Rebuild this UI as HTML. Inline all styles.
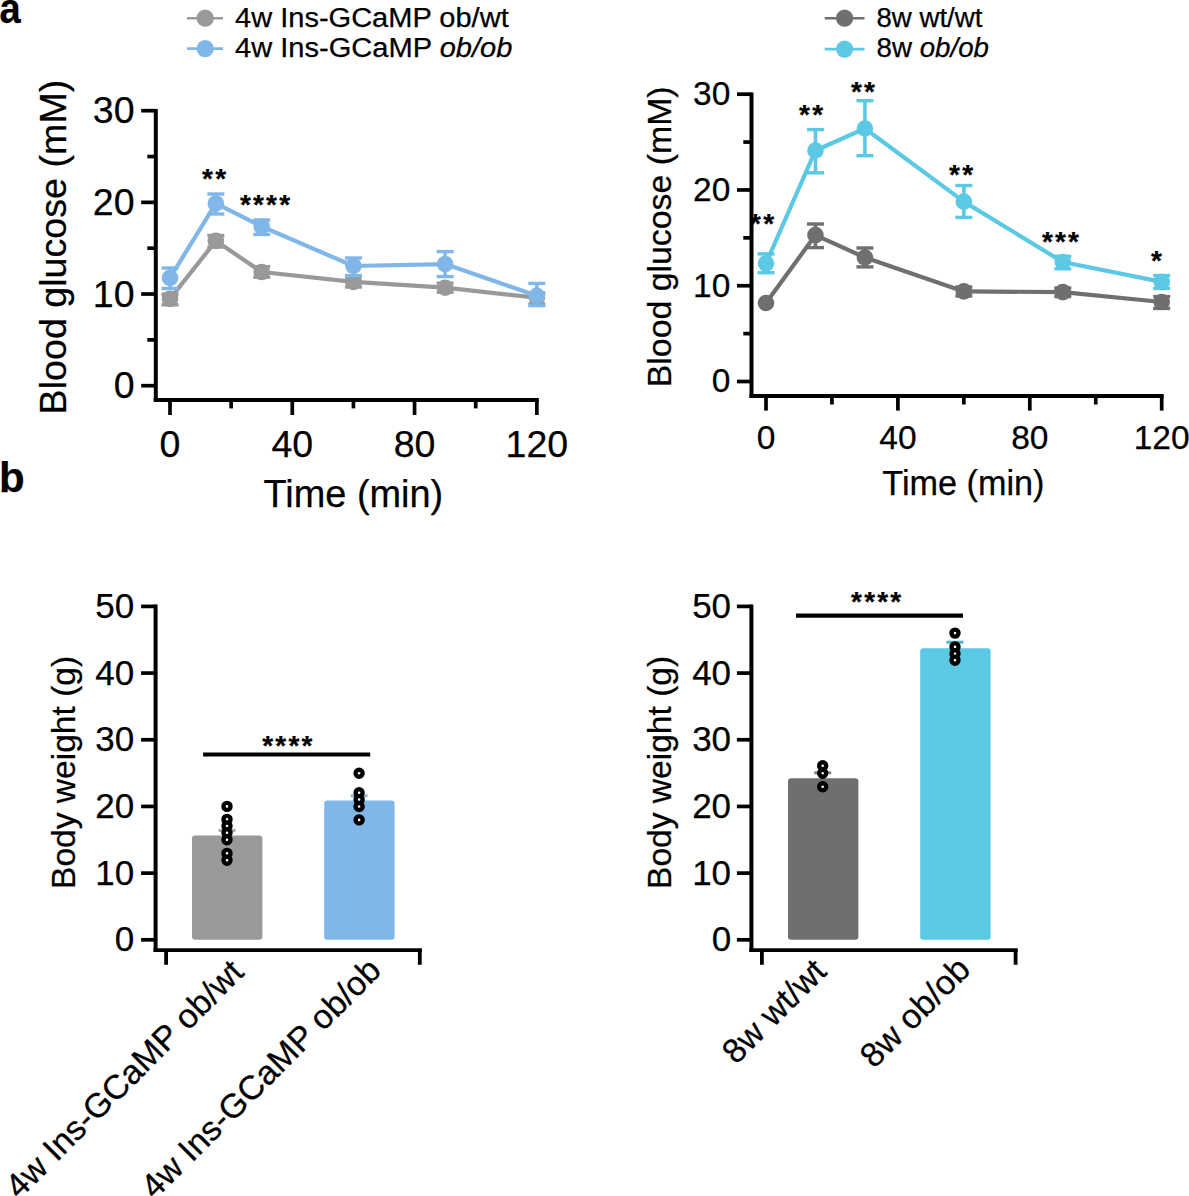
<!DOCTYPE html>
<html><head><meta charset="utf-8"><title>Figure</title>
<style>
html,body{margin:0;padding:0;background:#fff;}
body{width:1189px;height:1196px;overflow:hidden;}
svg{display:block;}
text{font-family:"Liberation Sans", sans-serif;fill:#000;stroke:#000;stroke-width:0.25px;}
</style></head>
<body>
<svg width="1189" height="1196" viewBox="0 0 1189 1196">
<rect width="1189" height="1196" fill="#fff"/>
<text x="-0.60" y="22.90" font-size="42" text-anchor="start" font-weight="bold" textLength="21.20" lengthAdjust="spacingAndGlyphs">a</text>
<text x="-1.00" y="491.50" font-size="42" text-anchor="start" font-weight="bold">b</text>
<line x1="187.00" y1="18.20" x2="223.00" y2="18.20" stroke="#999999" stroke-width="2.6" stroke-linecap="butt"/>
<circle cx="205.20" cy="18.20" r="8.6" fill="#999999" stroke="none" stroke-width="0"/>
<line x1="187.00" y1="48.60" x2="223.00" y2="48.60" stroke="#80b7e8" stroke-width="2.6" stroke-linecap="butt"/>
<circle cx="205.20" cy="48.60" r="8.6" fill="#80b7e8" stroke="none" stroke-width="0"/>
<text x="235.00" y="27.20" font-size="27" text-anchor="start" font-weight="normal" textLength="273.72" lengthAdjust="spacingAndGlyphs">4w Ins-GCaMP ob/wt</text>
<text x="235.00" y="57.10" font-size="27" text-anchor="start" font-weight="normal" textLength="277.41" lengthAdjust="spacingAndGlyphs">4w Ins-GCaMP <tspan font-style="italic">ob/ob</tspan></text>
<line x1="824.70" y1="18.20" x2="864.50" y2="18.20" stroke="#6f6f6f" stroke-width="2.6" stroke-linecap="butt"/>
<circle cx="844.60" cy="18.20" r="8.6" fill="#6f6f6f" stroke="none" stroke-width="0"/>
<line x1="824.70" y1="49.10" x2="864.50" y2="49.10" stroke="#5bc9e3" stroke-width="2.6" stroke-linecap="butt"/>
<circle cx="844.60" cy="49.10" r="8.6" fill="#5bc9e3" stroke="none" stroke-width="0"/>
<text x="876.50" y="27.40" font-size="27" text-anchor="start" font-weight="normal" textLength="105.86" lengthAdjust="spacingAndGlyphs">8w wt/wt</text>
<text x="876.50" y="57.40" font-size="27" text-anchor="start" font-weight="normal" textLength="112.54" lengthAdjust="spacingAndGlyphs">8w <tspan font-style="italic">ob/ob</tspan></text>
<line x1="155.80" y1="108.89" x2="155.80" y2="402.10" stroke="#000" stroke-width="4" stroke-linecap="butt"/>
<line x1="153.80" y1="400.10" x2="538.84" y2="400.10" stroke="#000" stroke-width="4" stroke-linecap="butt"/>
<line x1="141.20" y1="385.70" x2="155.80" y2="385.70" stroke="#000" stroke-width="3.7" stroke-linecap="butt"/>
<line x1="141.20" y1="294.03" x2="155.80" y2="294.03" stroke="#000" stroke-width="3.7" stroke-linecap="butt"/>
<line x1="141.20" y1="202.36" x2="155.80" y2="202.36" stroke="#000" stroke-width="3.7" stroke-linecap="butt"/>
<line x1="141.20" y1="110.69" x2="155.80" y2="110.69" stroke="#000" stroke-width="3.7" stroke-linecap="butt"/>
<line x1="147.30" y1="339.87" x2="155.80" y2="339.87" stroke="#000" stroke-width="3.7" stroke-linecap="butt"/>
<line x1="147.30" y1="248.19" x2="155.80" y2="248.19" stroke="#000" stroke-width="3.7" stroke-linecap="butt"/>
<line x1="147.30" y1="156.53" x2="155.80" y2="156.53" stroke="#000" stroke-width="3.7" stroke-linecap="butt"/>
<line x1="170.00" y1="400.10" x2="170.00" y2="415.00" stroke="#000" stroke-width="3.7" stroke-linecap="butt"/>
<line x1="292.28" y1="400.10" x2="292.28" y2="415.00" stroke="#000" stroke-width="3.7" stroke-linecap="butt"/>
<line x1="414.56" y1="400.10" x2="414.56" y2="415.00" stroke="#000" stroke-width="3.7" stroke-linecap="butt"/>
<line x1="536.84" y1="400.10" x2="536.84" y2="415.00" stroke="#000" stroke-width="3.7" stroke-linecap="butt"/>
<line x1="231.14" y1="400.10" x2="231.14" y2="408.40" stroke="#000" stroke-width="3.7" stroke-linecap="butt"/>
<line x1="353.42" y1="400.10" x2="353.42" y2="408.40" stroke="#000" stroke-width="3.7" stroke-linecap="butt"/>
<line x1="475.70" y1="400.10" x2="475.70" y2="408.40" stroke="#000" stroke-width="3.7" stroke-linecap="butt"/>
<text x="134.50" y="398.43" font-size="37.5" text-anchor="end" font-weight="normal">0</text>
<text x="134.50" y="306.75" font-size="37.5" text-anchor="end" font-weight="normal">10</text>
<text x="134.50" y="215.09" font-size="37.5" text-anchor="end" font-weight="normal">20</text>
<text x="134.50" y="123.41" font-size="37.5" text-anchor="end" font-weight="normal">30</text>
<text x="170.00" y="456.70" font-size="37.5" text-anchor="middle" font-weight="normal">0</text>
<text x="292.28" y="456.70" font-size="37.5" text-anchor="middle" font-weight="normal">40</text>
<text x="414.56" y="456.70" font-size="37.5" text-anchor="middle" font-weight="normal">80</text>
<text x="536.84" y="456.70" font-size="37.5" text-anchor="middle" font-weight="normal">120</text>
<text x="353.40" y="507.30" font-size="37.9" text-anchor="middle" font-weight="normal">Time (min)</text>
<text x="0.00" y="0.00" font-size="37.65" text-anchor="middle" font-weight="normal" transform="translate(66.1,247.05) rotate(-90)">Blood glucose (mM)</text>
<path d="M170.00,298.89 L215.85,240.86 L261.71,272.03 L353.42,281.93 L445.13,287.70 L536.84,297.70" fill="none" stroke="#999999" stroke-width="4.2" stroke-linejoin="round"/>
<line x1="170.00" y1="304.80" x2="170.00" y2="294.20" stroke="#999999" stroke-width="3.6" stroke-linecap="butt"/>
<line x1="161.50" y1="304.80" x2="178.50" y2="304.80" stroke="#999999" stroke-width="3.4" stroke-linecap="butt"/>
<line x1="161.50" y1="294.20" x2="178.50" y2="294.20" stroke="#999999" stroke-width="3.4" stroke-linecap="butt"/>
<line x1="215.85" y1="247.00" x2="215.85" y2="235.50" stroke="#999999" stroke-width="3.6" stroke-linecap="butt"/>
<line x1="207.35" y1="247.00" x2="224.35" y2="247.00" stroke="#999999" stroke-width="3.4" stroke-linecap="butt"/>
<line x1="207.35" y1="235.50" x2="224.35" y2="235.50" stroke="#999999" stroke-width="3.4" stroke-linecap="butt"/>
<line x1="261.71" y1="277.20" x2="261.71" y2="266.70" stroke="#999999" stroke-width="3.6" stroke-linecap="butt"/>
<line x1="253.21" y1="277.20" x2="270.21" y2="277.20" stroke="#999999" stroke-width="3.4" stroke-linecap="butt"/>
<line x1="253.21" y1="266.70" x2="270.21" y2="266.70" stroke="#999999" stroke-width="3.4" stroke-linecap="butt"/>
<line x1="353.42" y1="287.00" x2="353.42" y2="277.00" stroke="#999999" stroke-width="3.6" stroke-linecap="butt"/>
<line x1="344.92" y1="287.00" x2="361.92" y2="287.00" stroke="#999999" stroke-width="3.4" stroke-linecap="butt"/>
<line x1="344.92" y1="277.00" x2="361.92" y2="277.00" stroke="#999999" stroke-width="3.4" stroke-linecap="butt"/>
<line x1="445.13" y1="292.20" x2="445.13" y2="283.20" stroke="#999999" stroke-width="3.6" stroke-linecap="butt"/>
<line x1="436.63" y1="292.20" x2="453.63" y2="292.20" stroke="#999999" stroke-width="3.4" stroke-linecap="butt"/>
<line x1="436.63" y1="283.20" x2="453.63" y2="283.20" stroke="#999999" stroke-width="3.4" stroke-linecap="butt"/>
<line x1="536.84" y1="304.00" x2="536.84" y2="293.00" stroke="#999999" stroke-width="3.6" stroke-linecap="butt"/>
<line x1="528.34" y1="304.00" x2="545.34" y2="304.00" stroke="#999999" stroke-width="3.4" stroke-linecap="butt"/>
<line x1="528.34" y1="293.00" x2="545.34" y2="293.00" stroke="#999999" stroke-width="3.4" stroke-linecap="butt"/>
<circle cx="170.00" cy="298.89" r="8.3" fill="#999999" stroke="none" stroke-width="0"/>
<circle cx="215.85" cy="240.86" r="8.3" fill="#999999" stroke="none" stroke-width="0"/>
<circle cx="261.71" cy="272.03" r="8.3" fill="#999999" stroke="none" stroke-width="0"/>
<circle cx="353.42" cy="281.93" r="8.3" fill="#999999" stroke="none" stroke-width="0"/>
<circle cx="445.13" cy="287.70" r="8.3" fill="#999999" stroke="none" stroke-width="0"/>
<circle cx="536.84" cy="297.70" r="8.3" fill="#999999" stroke="none" stroke-width="0"/>
<path d="M170.00,277.80 L215.85,203.46 L261.71,226.47 L353.42,265.98 L445.13,264.05 L536.84,295.77" fill="none" stroke="#80b7e8" stroke-width="4.2" stroke-linejoin="round"/>
<line x1="170.00" y1="288.50" x2="170.00" y2="268.00" stroke="#80b7e8" stroke-width="3.6" stroke-linecap="butt"/>
<line x1="161.50" y1="288.50" x2="178.50" y2="288.50" stroke="#80b7e8" stroke-width="3.4" stroke-linecap="butt"/>
<line x1="161.50" y1="268.00" x2="178.50" y2="268.00" stroke="#80b7e8" stroke-width="3.4" stroke-linecap="butt"/>
<line x1="215.85" y1="214.00" x2="215.85" y2="194.00" stroke="#80b7e8" stroke-width="3.6" stroke-linecap="butt"/>
<line x1="207.35" y1="214.00" x2="224.35" y2="214.00" stroke="#80b7e8" stroke-width="3.4" stroke-linecap="butt"/>
<line x1="207.35" y1="194.00" x2="224.35" y2="194.00" stroke="#80b7e8" stroke-width="3.4" stroke-linecap="butt"/>
<line x1="261.71" y1="234.50" x2="261.71" y2="220.00" stroke="#80b7e8" stroke-width="3.6" stroke-linecap="butt"/>
<line x1="253.21" y1="234.50" x2="270.21" y2="234.50" stroke="#80b7e8" stroke-width="3.4" stroke-linecap="butt"/>
<line x1="253.21" y1="220.00" x2="270.21" y2="220.00" stroke="#80b7e8" stroke-width="3.4" stroke-linecap="butt"/>
<line x1="353.42" y1="275.60" x2="353.42" y2="258.00" stroke="#80b7e8" stroke-width="3.6" stroke-linecap="butt"/>
<line x1="344.92" y1="275.60" x2="361.92" y2="275.60" stroke="#80b7e8" stroke-width="3.4" stroke-linecap="butt"/>
<line x1="344.92" y1="258.00" x2="361.92" y2="258.00" stroke="#80b7e8" stroke-width="3.4" stroke-linecap="butt"/>
<line x1="445.13" y1="276.60" x2="445.13" y2="251.60" stroke="#80b7e8" stroke-width="3.6" stroke-linecap="butt"/>
<line x1="436.63" y1="276.60" x2="453.63" y2="276.60" stroke="#80b7e8" stroke-width="3.4" stroke-linecap="butt"/>
<line x1="436.63" y1="251.60" x2="453.63" y2="251.60" stroke="#80b7e8" stroke-width="3.4" stroke-linecap="butt"/>
<line x1="536.84" y1="305.60" x2="536.84" y2="283.40" stroke="#80b7e8" stroke-width="3.6" stroke-linecap="butt"/>
<line x1="528.34" y1="305.60" x2="545.34" y2="305.60" stroke="#80b7e8" stroke-width="3.4" stroke-linecap="butt"/>
<line x1="528.34" y1="283.40" x2="545.34" y2="283.40" stroke="#80b7e8" stroke-width="3.4" stroke-linecap="butt"/>
<circle cx="170.00" cy="277.80" r="8.3" fill="#80b7e8" stroke="none" stroke-width="0"/>
<circle cx="215.85" cy="203.46" r="8.3" fill="#80b7e8" stroke="none" stroke-width="0"/>
<circle cx="261.71" cy="226.47" r="8.3" fill="#80b7e8" stroke="none" stroke-width="0"/>
<circle cx="353.42" cy="265.98" r="8.3" fill="#80b7e8" stroke="none" stroke-width="0"/>
<circle cx="445.13" cy="264.05" r="8.3" fill="#80b7e8" stroke="none" stroke-width="0"/>
<circle cx="536.84" cy="295.77" r="8.3" fill="#80b7e8" stroke="none" stroke-width="0"/>
<text x="207.50" y="187.90" font-size="28" text-anchor="middle" font-weight="bold">*</text>
<text x="220.60" y="187.90" font-size="28" text-anchor="middle" font-weight="bold">*</text>
<text x="245.35" y="213.90" font-size="28" text-anchor="middle" font-weight="bold">*</text>
<text x="258.45" y="213.90" font-size="28" text-anchor="middle" font-weight="bold">*</text>
<text x="271.55" y="213.90" font-size="28" text-anchor="middle" font-weight="bold">*</text>
<text x="284.65" y="213.90" font-size="28" text-anchor="middle" font-weight="bold">*</text>
<line x1="751.50" y1="92.39" x2="751.50" y2="398.00" stroke="#000" stroke-width="4" stroke-linecap="butt"/>
<line x1="749.50" y1="396.00" x2="1163.70" y2="396.00" stroke="#000" stroke-width="4" stroke-linecap="butt"/>
<line x1="737.00" y1="381.50" x2="751.50" y2="381.50" stroke="#000" stroke-width="3.7" stroke-linecap="butt"/>
<line x1="737.00" y1="285.73" x2="751.50" y2="285.73" stroke="#000" stroke-width="3.7" stroke-linecap="butt"/>
<line x1="737.00" y1="189.96" x2="751.50" y2="189.96" stroke="#000" stroke-width="3.7" stroke-linecap="butt"/>
<line x1="737.00" y1="94.19" x2="751.50" y2="94.19" stroke="#000" stroke-width="3.7" stroke-linecap="butt"/>
<line x1="743.30" y1="333.62" x2="751.50" y2="333.62" stroke="#000" stroke-width="3.7" stroke-linecap="butt"/>
<line x1="743.30" y1="237.84" x2="751.50" y2="237.84" stroke="#000" stroke-width="3.7" stroke-linecap="butt"/>
<line x1="743.30" y1="142.07" x2="751.50" y2="142.07" stroke="#000" stroke-width="3.7" stroke-linecap="butt"/>
<line x1="766.00" y1="396.00" x2="766.00" y2="410.60" stroke="#000" stroke-width="3.7" stroke-linecap="butt"/>
<line x1="897.90" y1="396.00" x2="897.90" y2="410.60" stroke="#000" stroke-width="3.7" stroke-linecap="butt"/>
<line x1="1029.80" y1="396.00" x2="1029.80" y2="410.60" stroke="#000" stroke-width="3.7" stroke-linecap="butt"/>
<line x1="1161.70" y1="396.00" x2="1161.70" y2="410.60" stroke="#000" stroke-width="3.7" stroke-linecap="butt"/>
<line x1="831.95" y1="396.00" x2="831.95" y2="404.50" stroke="#000" stroke-width="3.7" stroke-linecap="butt"/>
<line x1="963.85" y1="396.00" x2="963.85" y2="404.50" stroke="#000" stroke-width="3.7" stroke-linecap="butt"/>
<line x1="1095.75" y1="396.00" x2="1095.75" y2="404.50" stroke="#000" stroke-width="3.7" stroke-linecap="butt"/>
<text x="730.30" y="392.49" font-size="33.5" text-anchor="end" font-weight="normal">0</text>
<text x="730.30" y="296.72" font-size="33.5" text-anchor="end" font-weight="normal">10</text>
<text x="730.30" y="200.95" font-size="33.5" text-anchor="end" font-weight="normal">20</text>
<text x="730.30" y="105.18" font-size="33.5" text-anchor="end" font-weight="normal">30</text>
<text x="766.00" y="449.00" font-size="33.5" text-anchor="middle" font-weight="normal">0</text>
<text x="897.90" y="449.00" font-size="33.5" text-anchor="middle" font-weight="normal">40</text>
<text x="1029.80" y="449.00" font-size="33.5" text-anchor="middle" font-weight="normal">80</text>
<text x="1161.70" y="449.00" font-size="33.5" text-anchor="middle" font-weight="normal">120</text>
<text x="963.40" y="495.10" font-size="34.2" text-anchor="middle" font-weight="normal">Time (min)</text>
<text x="0.00" y="0.00" font-size="33.85" text-anchor="middle" font-weight="normal" transform="translate(671.0,236.8) rotate(-90)">Blood glucose (mM)</text>
<path d="M766.00,303.00 L815.46,235.10 L864.92,257.50 L963.85,291.40 L1062.78,292.10 L1161.70,302.00" fill="none" stroke="#6f6f6f" stroke-width="4.2" stroke-linejoin="round"/>
<line x1="815.46" y1="247.60" x2="815.46" y2="224.00" stroke="#6f6f6f" stroke-width="3.6" stroke-linecap="butt"/>
<line x1="806.96" y1="247.60" x2="823.96" y2="247.60" stroke="#6f6f6f" stroke-width="3.4" stroke-linecap="butt"/>
<line x1="806.96" y1="224.00" x2="823.96" y2="224.00" stroke="#6f6f6f" stroke-width="3.4" stroke-linecap="butt"/>
<line x1="864.92" y1="266.90" x2="864.92" y2="248.00" stroke="#6f6f6f" stroke-width="3.6" stroke-linecap="butt"/>
<line x1="856.42" y1="266.90" x2="873.42" y2="266.90" stroke="#6f6f6f" stroke-width="3.4" stroke-linecap="butt"/>
<line x1="856.42" y1="248.00" x2="873.42" y2="248.00" stroke="#6f6f6f" stroke-width="3.4" stroke-linecap="butt"/>
<line x1="963.85" y1="296.00" x2="963.85" y2="287.00" stroke="#6f6f6f" stroke-width="3.6" stroke-linecap="butt"/>
<line x1="955.35" y1="296.00" x2="972.35" y2="296.00" stroke="#6f6f6f" stroke-width="3.4" stroke-linecap="butt"/>
<line x1="955.35" y1="287.00" x2="972.35" y2="287.00" stroke="#6f6f6f" stroke-width="3.4" stroke-linecap="butt"/>
<line x1="1062.78" y1="296.50" x2="1062.78" y2="288.00" stroke="#6f6f6f" stroke-width="3.6" stroke-linecap="butt"/>
<line x1="1054.28" y1="296.50" x2="1071.28" y2="296.50" stroke="#6f6f6f" stroke-width="3.4" stroke-linecap="butt"/>
<line x1="1054.28" y1="288.00" x2="1071.28" y2="288.00" stroke="#6f6f6f" stroke-width="3.4" stroke-linecap="butt"/>
<line x1="1161.70" y1="308.40" x2="1161.70" y2="296.60" stroke="#6f6f6f" stroke-width="3.6" stroke-linecap="butt"/>
<line x1="1153.20" y1="308.40" x2="1170.20" y2="308.40" stroke="#6f6f6f" stroke-width="3.4" stroke-linecap="butt"/>
<line x1="1153.20" y1="296.60" x2="1170.20" y2="296.60" stroke="#6f6f6f" stroke-width="3.4" stroke-linecap="butt"/>
<circle cx="766.00" cy="303.00" r="8.3" fill="#6f6f6f" stroke="none" stroke-width="0"/>
<circle cx="815.46" cy="235.10" r="8.3" fill="#6f6f6f" stroke="none" stroke-width="0"/>
<circle cx="864.92" cy="257.50" r="8.3" fill="#6f6f6f" stroke="none" stroke-width="0"/>
<circle cx="963.85" cy="291.40" r="8.3" fill="#6f6f6f" stroke="none" stroke-width="0"/>
<circle cx="1062.78" cy="292.10" r="8.3" fill="#6f6f6f" stroke="none" stroke-width="0"/>
<circle cx="1161.70" cy="302.00" r="8.3" fill="#6f6f6f" stroke="none" stroke-width="0"/>
<path d="M766.00,263.30 L815.46,150.50 L864.92,128.50 L963.85,201.60 L1062.78,262.00 L1161.70,281.90" fill="none" stroke="#5bc9e3" stroke-width="4.2" stroke-linejoin="round"/>
<line x1="766.00" y1="272.70" x2="766.00" y2="253.90" stroke="#5bc9e3" stroke-width="3.6" stroke-linecap="butt"/>
<line x1="757.50" y1="272.70" x2="774.50" y2="272.70" stroke="#5bc9e3" stroke-width="3.4" stroke-linecap="butt"/>
<line x1="757.50" y1="253.90" x2="774.50" y2="253.90" stroke="#5bc9e3" stroke-width="3.4" stroke-linecap="butt"/>
<line x1="815.46" y1="172.80" x2="815.46" y2="129.60" stroke="#5bc9e3" stroke-width="3.6" stroke-linecap="butt"/>
<line x1="806.96" y1="172.80" x2="823.96" y2="172.80" stroke="#5bc9e3" stroke-width="3.4" stroke-linecap="butt"/>
<line x1="806.96" y1="129.60" x2="823.96" y2="129.60" stroke="#5bc9e3" stroke-width="3.4" stroke-linecap="butt"/>
<line x1="864.92" y1="155.70" x2="864.92" y2="100.70" stroke="#5bc9e3" stroke-width="3.6" stroke-linecap="butt"/>
<line x1="856.42" y1="155.70" x2="873.42" y2="155.70" stroke="#5bc9e3" stroke-width="3.4" stroke-linecap="butt"/>
<line x1="856.42" y1="100.70" x2="873.42" y2="100.70" stroke="#5bc9e3" stroke-width="3.4" stroke-linecap="butt"/>
<line x1="963.85" y1="217.40" x2="963.85" y2="185.50" stroke="#5bc9e3" stroke-width="3.6" stroke-linecap="butt"/>
<line x1="955.35" y1="217.40" x2="972.35" y2="217.40" stroke="#5bc9e3" stroke-width="3.4" stroke-linecap="butt"/>
<line x1="955.35" y1="185.50" x2="972.35" y2="185.50" stroke="#5bc9e3" stroke-width="3.4" stroke-linecap="butt"/>
<line x1="1062.78" y1="268.80" x2="1062.78" y2="256.30" stroke="#5bc9e3" stroke-width="3.6" stroke-linecap="butt"/>
<line x1="1054.28" y1="268.80" x2="1071.28" y2="268.80" stroke="#5bc9e3" stroke-width="3.4" stroke-linecap="butt"/>
<line x1="1054.28" y1="256.30" x2="1071.28" y2="256.30" stroke="#5bc9e3" stroke-width="3.4" stroke-linecap="butt"/>
<line x1="1161.70" y1="288.50" x2="1161.70" y2="275.60" stroke="#5bc9e3" stroke-width="3.6" stroke-linecap="butt"/>
<line x1="1153.20" y1="288.50" x2="1170.20" y2="288.50" stroke="#5bc9e3" stroke-width="3.4" stroke-linecap="butt"/>
<line x1="1153.20" y1="275.60" x2="1170.20" y2="275.60" stroke="#5bc9e3" stroke-width="3.4" stroke-linecap="butt"/>
<circle cx="766.00" cy="263.30" r="8.3" fill="#5bc9e3" stroke="none" stroke-width="0"/>
<circle cx="815.46" cy="150.50" r="8.3" fill="#5bc9e3" stroke="none" stroke-width="0"/>
<circle cx="864.92" cy="128.50" r="8.3" fill="#5bc9e3" stroke="none" stroke-width="0"/>
<circle cx="963.85" cy="201.60" r="8.3" fill="#5bc9e3" stroke="none" stroke-width="0"/>
<circle cx="1062.78" cy="262.00" r="8.3" fill="#5bc9e3" stroke="none" stroke-width="0"/>
<circle cx="1161.70" cy="281.90" r="8.3" fill="#5bc9e3" stroke="none" stroke-width="0"/>
<text x="755.55" y="233.10" font-size="28" text-anchor="middle" font-weight="bold">*</text>
<text x="768.65" y="233.10" font-size="28" text-anchor="middle" font-weight="bold">*</text>
<text x="804.50" y="124.00" font-size="28" text-anchor="middle" font-weight="bold">*</text>
<text x="817.60" y="124.00" font-size="28" text-anchor="middle" font-weight="bold">*</text>
<text x="856.45" y="100.90" font-size="28" text-anchor="middle" font-weight="bold">*</text>
<text x="869.55" y="100.90" font-size="28" text-anchor="middle" font-weight="bold">*</text>
<text x="954.50" y="184.00" font-size="28" text-anchor="middle" font-weight="bold">*</text>
<text x="967.60" y="184.00" font-size="28" text-anchor="middle" font-weight="bold">*</text>
<text x="1047.35" y="251.10" font-size="28" text-anchor="middle" font-weight="bold">*</text>
<text x="1060.45" y="251.10" font-size="28" text-anchor="middle" font-weight="bold">*</text>
<text x="1073.55" y="251.10" font-size="28" text-anchor="middle" font-weight="bold">*</text>
<text x="1156.45" y="269.90" font-size="28" text-anchor="middle" font-weight="bold">*</text>
<line x1="155.60" y1="604.50" x2="155.60" y2="952.00" stroke="#000" stroke-width="4" stroke-linecap="butt"/>
<line x1="153.60" y1="950.10" x2="421.90" y2="950.10" stroke="#000" stroke-width="3.8" stroke-linecap="butt"/>
<line x1="141.10" y1="939.80" x2="155.60" y2="939.80" stroke="#000" stroke-width="3.7" stroke-linecap="butt"/>
<text x="134.30" y="951.23" font-size="35" text-anchor="end" font-weight="normal">0</text>
<line x1="141.10" y1="873.12" x2="155.60" y2="873.12" stroke="#000" stroke-width="3.7" stroke-linecap="butt"/>
<text x="134.30" y="884.55" font-size="35" text-anchor="end" font-weight="normal">10</text>
<line x1="141.10" y1="806.44" x2="155.60" y2="806.44" stroke="#000" stroke-width="3.7" stroke-linecap="butt"/>
<text x="134.30" y="817.87" font-size="35" text-anchor="end" font-weight="normal">20</text>
<line x1="141.10" y1="739.76" x2="155.60" y2="739.76" stroke="#000" stroke-width="3.7" stroke-linecap="butt"/>
<text x="134.30" y="751.19" font-size="35" text-anchor="end" font-weight="normal">30</text>
<line x1="141.10" y1="673.08" x2="155.60" y2="673.08" stroke="#000" stroke-width="3.7" stroke-linecap="butt"/>
<text x="134.30" y="684.51" font-size="35" text-anchor="end" font-weight="normal">40</text>
<line x1="141.10" y1="606.40" x2="155.60" y2="606.40" stroke="#000" stroke-width="3.7" stroke-linecap="butt"/>
<text x="134.30" y="617.83" font-size="35" text-anchor="end" font-weight="normal">50</text>
<line x1="166.10" y1="950.00" x2="166.10" y2="964.80" stroke="#000" stroke-width="3.8" stroke-linecap="butt"/>
<line x1="419.80" y1="950.00" x2="419.80" y2="964.80" stroke="#000" stroke-width="3.8" stroke-linecap="butt"/>
<text x="0.00" y="0.00" font-size="33.55" text-anchor="middle" font-weight="normal" transform="translate(75.1,772.4) rotate(-90)">Body weight (g)</text>
<path d="M192.00,838.60 Q192.00,835.60 195.00,835.60 L259.40,835.60 Q262.40,835.60 262.40,838.60 L262.40,936.80 Q262.40,939.80 259.40,939.80 L195.00,939.80 Q192.00,939.80 192.00,936.80 Z" fill="#999999"/>
<line x1="227.00" y1="830.40" x2="227.00" y2="835.60" stroke="#aaaaaa" stroke-width="3" stroke-linecap="butt"/>
<line x1="218.50" y1="830.40" x2="235.50" y2="830.40" stroke="#aaaaaa" stroke-width="3" stroke-linecap="butt"/>
<circle cx="227.00" cy="806.40" r="3.5" fill="#fff" stroke="#000" stroke-width="4.4"/>
<circle cx="227.00" cy="819.40" r="3.5" fill="#fff" stroke="#000" stroke-width="4.4"/>
<circle cx="227.00" cy="826.00" r="3.5" fill="#fff" stroke="#000" stroke-width="4.4"/>
<circle cx="227.00" cy="832.80" r="3.5" fill="#fff" stroke="#000" stroke-width="4.4"/>
<circle cx="227.00" cy="839.80" r="3.5" fill="#fff" stroke="#000" stroke-width="4.4"/>
<circle cx="227.00" cy="853.40" r="3.5" fill="#fff" stroke="#000" stroke-width="4.4"/>
<circle cx="227.00" cy="860.20" r="3.5" fill="#fff" stroke="#000" stroke-width="4.4"/>
<path d="M324.20,803.60 Q324.20,800.60 327.20,800.60 L391.60,800.60 Q394.60,800.60 394.60,803.60 L394.60,936.80 Q394.60,939.80 391.60,939.80 L327.20,939.80 Q324.20,939.80 324.20,936.80 Z" fill="#80b7e8"/>
<line x1="359.10" y1="795.80" x2="359.10" y2="800.60" stroke="#8fb3cf" stroke-width="3" stroke-linecap="butt"/>
<line x1="350.60" y1="795.80" x2="367.60" y2="795.80" stroke="#8fb3cf" stroke-width="3" stroke-linecap="butt"/>
<circle cx="359.10" cy="773.20" r="3.5" fill="#fff" stroke="#000" stroke-width="4.4"/>
<circle cx="359.10" cy="792.80" r="3.5" fill="#fff" stroke="#000" stroke-width="4.4"/>
<circle cx="359.10" cy="799.60" r="3.5" fill="#fff" stroke="#000" stroke-width="4.4"/>
<circle cx="359.10" cy="806.50" r="3.5" fill="#fff" stroke="#000" stroke-width="4.4"/>
<circle cx="359.10" cy="819.90" r="3.5" fill="#fff" stroke="#000" stroke-width="4.4"/>
<line x1="203.10" y1="754.50" x2="370.20" y2="754.50" stroke="#000" stroke-width="4.2" stroke-linecap="butt"/>
<text x="267.65" y="755.00" font-size="28" text-anchor="middle" font-weight="bold">*</text>
<text x="280.75" y="755.00" font-size="28" text-anchor="middle" font-weight="bold">*</text>
<text x="293.85" y="755.00" font-size="28" text-anchor="middle" font-weight="bold">*</text>
<text x="306.95" y="755.00" font-size="28" text-anchor="middle" font-weight="bold">*</text>
<text x="0.00" y="0.00" font-size="33.9" text-anchor="end" font-weight="normal" transform="translate(245.3,974.1) rotate(-45)">4w Ins-GCaMP ob/wt</text>
<text x="0.00" y="0.00" font-size="33.8" text-anchor="end" font-weight="normal" transform="translate(382.9,972.3) rotate(-45)">4w Ins-GCaMP ob/ob</text>
<line x1="751.40" y1="604.50" x2="751.40" y2="952.00" stroke="#000" stroke-width="4" stroke-linecap="butt"/>
<line x1="749.40" y1="950.10" x2="1017.70" y2="950.10" stroke="#000" stroke-width="3.8" stroke-linecap="butt"/>
<line x1="736.90" y1="939.80" x2="751.40" y2="939.80" stroke="#000" stroke-width="3.7" stroke-linecap="butt"/>
<text x="731.10" y="951.23" font-size="35" text-anchor="end" font-weight="normal">0</text>
<line x1="736.90" y1="873.12" x2="751.40" y2="873.12" stroke="#000" stroke-width="3.7" stroke-linecap="butt"/>
<text x="731.10" y="884.55" font-size="35" text-anchor="end" font-weight="normal">10</text>
<line x1="736.90" y1="806.44" x2="751.40" y2="806.44" stroke="#000" stroke-width="3.7" stroke-linecap="butt"/>
<text x="731.10" y="817.87" font-size="35" text-anchor="end" font-weight="normal">20</text>
<line x1="736.90" y1="739.76" x2="751.40" y2="739.76" stroke="#000" stroke-width="3.7" stroke-linecap="butt"/>
<text x="731.10" y="751.19" font-size="35" text-anchor="end" font-weight="normal">30</text>
<line x1="736.90" y1="673.08" x2="751.40" y2="673.08" stroke="#000" stroke-width="3.7" stroke-linecap="butt"/>
<text x="731.10" y="684.51" font-size="35" text-anchor="end" font-weight="normal">40</text>
<line x1="736.90" y1="606.40" x2="751.40" y2="606.40" stroke="#000" stroke-width="3.7" stroke-linecap="butt"/>
<text x="731.10" y="617.83" font-size="35" text-anchor="end" font-weight="normal">50</text>
<line x1="761.90" y1="950.00" x2="761.90" y2="964.80" stroke="#000" stroke-width="3.8" stroke-linecap="butt"/>
<line x1="1015.60" y1="950.00" x2="1015.60" y2="964.80" stroke="#000" stroke-width="3.8" stroke-linecap="butt"/>
<text x="0.00" y="0.00" font-size="33.55" text-anchor="middle" font-weight="normal" transform="translate(670.9,772.4) rotate(-90)">Body weight (g)</text>
<path d="M788.00,781.30 Q788.00,778.30 791.00,778.30 L855.40,778.30 Q858.40,778.30 858.40,781.30 L858.40,936.80 Q858.40,939.80 855.40,939.80 L791.00,939.80 Q788.00,939.80 788.00,936.80 Z" fill="#6f6f6f"/>
<line x1="822.70" y1="772.80" x2="822.70" y2="778.30" stroke="#808080" stroke-width="3" stroke-linecap="butt"/>
<line x1="814.20" y1="772.80" x2="831.20" y2="772.80" stroke="#808080" stroke-width="3" stroke-linecap="butt"/>
<circle cx="822.70" cy="765.70" r="3.5" fill="#fff" stroke="#000" stroke-width="4.4"/>
<circle cx="822.70" cy="773.20" r="3.5" fill="#fff" stroke="#000" stroke-width="4.4"/>
<circle cx="822.70" cy="786.70" r="3.5" fill="#fff" stroke="#000" stroke-width="4.4"/>
<path d="M920.20,651.20 Q920.20,648.20 923.20,648.20 L987.60,648.20 Q990.60,648.20 990.60,651.20 L990.60,936.80 Q990.60,939.80 987.60,939.80 L923.20,939.80 Q920.20,939.80 920.20,936.80 Z" fill="#5bc9e3"/>
<line x1="955.00" y1="642.20" x2="955.00" y2="648.20" stroke="#4fb4cc" stroke-width="3" stroke-linecap="butt"/>
<line x1="946.50" y1="642.20" x2="963.50" y2="642.20" stroke="#4fb4cc" stroke-width="3" stroke-linecap="butt"/>
<circle cx="955.00" cy="633.10" r="3.5" fill="#fff" stroke="#000" stroke-width="4.4"/>
<circle cx="955.00" cy="646.90" r="3.5" fill="#fff" stroke="#000" stroke-width="4.4"/>
<circle cx="955.00" cy="653.80" r="3.5" fill="#fff" stroke="#000" stroke-width="4.4"/>
<circle cx="955.00" cy="660.30" r="3.5" fill="#fff" stroke="#000" stroke-width="4.4"/>
<line x1="796.00" y1="615.70" x2="963.00" y2="615.70" stroke="#000" stroke-width="4.2" stroke-linecap="butt"/>
<text x="856.50" y="611.10" font-size="28" text-anchor="middle" font-weight="bold">*</text>
<text x="869.60" y="611.10" font-size="28" text-anchor="middle" font-weight="bold">*</text>
<text x="882.70" y="611.10" font-size="28" text-anchor="middle" font-weight="bold">*</text>
<text x="895.80" y="611.10" font-size="28" text-anchor="middle" font-weight="bold">*</text>
<text x="0.00" y="0.00" font-size="34.0" text-anchor="end" font-weight="normal" transform="translate(828.1999999999999,973.2) rotate(-45)">8w wt/wt</text>
<text x="0.00" y="0.00" font-size="34.2" text-anchor="end" font-weight="normal" transform="translate(972.0999999999999,971.4) rotate(-45)">8w ob/ob</text>
</svg>
</body></html>
